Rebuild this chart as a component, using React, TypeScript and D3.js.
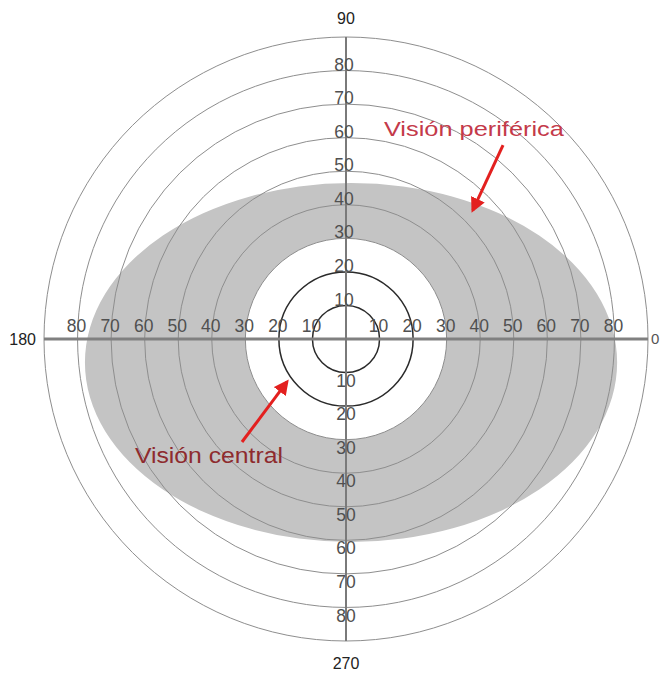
import React, { useEffect, useRef } from 'react';
import * as d3 from 'd3';

// Rings of the perimetry chart (degrees from fixation)
const ringDegrees = [10, 20, 30, 40, 50, 60, 70, 80, 90];
const darkRings = [10, 20];
const tickLabels = [10, 20, 30, 40, 50, 60, 70, 80];
const axisAngles = [0, 90, 180, 270];

// Peripheral field: shifted ellipse, in degrees [x, y] (y up)
const peripheralCenter = [1.5, -7];
const peripheralRadii = [79.3, 53.5];
// Central field: circle in degrees
const centralRadius = 30;

// Annotations in degrees: [text start, arrow tail, arrow tip]
const annotationNames = ['Visión periférica', 'Visión central'];
const annotationText = [[11.3, 60.5], [-62.9, -37]];
const annotationTail = [[46.8, 57.8], [-31, -30.7]];
const annotationTip = [[37.8, 38.4], [-17.6, -12.8]];

function App() {
  const ref = useRef<SVGSVGElement>(null);

  useEffect(() => {
    const svg = d3.select(ref.current);
    svg.selectAll('*').remove();

    const width = 672;
    const height = 680;
    const cx = 346;
    const cy = 339;
    const font = '"Liberation Sans", Arial, sans-serif';

    const r = d3.scaleLinear().domain([0, 90]).range([0, 302]);
    const px = (d: number) => cx + r(d);
    const py = (d: number) => cy - r(d);

    svg.append('rect').attr('width', width).attr('height', height).attr('fill', '#fff');

    const defs = svg.append('defs');
    defs.append('marker')
      .attr('id', 'head')
      .attr('viewBox', '0 0 10 10')
      .attr('refX', 8)
      .attr('refY', 5)
      .attr('markerWidth', 5)
      .attr('markerHeight', 5)
      .attr('orient', 'auto')
      .append('path')
      .attr('d', 'M0,0 L10,5 L0,10 Z')
      .attr('fill', '#e3201f');

    // Gray band: peripheral ellipse minus the central circle
    const ex = px(peripheralCenter[0]);
    const ey = py(peripheralCenter[1]);
    const erx = r(peripheralRadii[0]);
    const ery = r(peripheralRadii[1]);
    const cr = r(centralRadius);
    const ellipsePath = `M${ex + erx},${ey} A${erx},${ery} 0 1 0 ${ex - erx},${ey} A${erx},${ery} 0 1 0 ${ex + erx},${ey} Z`;
    const circlePath = `M${cx + cr},${cy} A${cr},${cr} 0 1 0 ${cx - cr},${cy} A${cr},${cr} 0 1 0 ${cx + cr},${cy} Z`;
    svg.append('path')
      .attr('d', ellipsePath + ' ' + circlePath)
      .attr('fill-rule', 'evenodd')
      .attr('fill', '#c4c4c4');

    // Rings
    svg.selectAll('.ring')
      .data(ringDegrees)
      .enter().append('circle')
      .attr('cx', cx)
      .attr('cy', cy)
      .attr('r', d => r(d))
      .attr('fill', 'none')
      .attr('stroke', d => darkRings.includes(d) ? '#2a2a2a' : '#8e8e8e')
      .attr('stroke-width', d => darkRings.includes(d) ? 1.5 : 1);

    // Axes
    svg.append('line')
      .attr('x1', px(-90)).attr('x2', px(90))
      .attr('y1', cy).attr('y2', cy)
      .attr('stroke', '#808080')
      .attr('stroke-width', 3);
    svg.append('line')
      .attr('x1', cx).attr('x2', cx)
      .attr('y1', py(90)).attr('y2', py(-90))
      .attr('stroke', '#7a7a7a')
      .attr('stroke-width', 2);

    const tickStyle = (sel: any) => sel
      .attr('font-family', font)
      .attr('font-size', 17.5)
      .attr('fill', '#505050')
      .attr('text-anchor', 'middle');

    // Horizontal tick labels (both sides, above axis)
    [-1, 1].forEach(side => {
      svg.selectAll(`.hx${side}`)
        .data(tickLabels)
        .enter().append('text')
        .call(tickStyle)
        .attr('x', d => px(side * d) - 1)
        .attr('y', cy - 7)
        .text(d => d);
    });

    // Vertical tick labels (sitting on the rings)
    svg.selectAll('.vu')
      .data(tickLabels)
      .enter().append('text')
      .call(tickStyle)
      .attr('x', cx - 2)
      .attr('y', d => py(d) - 6)
      .attr('dy', '0.35em')
      .text(d => d);
    svg.selectAll('.vd')
      .data(tickLabels)
      .enter().append('text')
      .call(tickStyle)
      .attr('x', cx)
      .attr('y', d => py(-d) + 8)
      .attr('dy', '0.35em')
      .text(d => d);

    // Meridian labels
    const meridianPos = (a: number) => {
      if (a === 0) return { x: px(90) + 3, y: cy, anchor: 'start' };
      if (a === 90) return { x: cx, y: py(90) - 19, anchor: 'middle' };
      if (a === 180) return { x: px(-90) - 8, y: cy, anchor: 'end' };
      return { x: cx, y: py(-90) + 22, anchor: 'middle' };
    };
    svg.selectAll('.meridian')
      .data(axisAngles)
      .enter().append('text')
      .attr('x', d => meridianPos(d).x)
      .attr('y', d => meridianPos(d).y)
      .attr('dy', '0.35em')
      .attr('text-anchor', d => meridianPos(d).anchor)
      .attr('font-family', font)
      .attr('font-size', d => d === 0 ? 15 : 16)
      .attr('fill', d => d === 0 ? '#555' : '#222')
      .text(d => d);

    // Annotations
    const textColors = ['#c43a4a', '#8e2b2e'];
    const textWidths = [180, 148];
    const textSizes = [21, 22];
    annotationNames.forEach((name, i) => {
      svg.append('line')
        .attr('x1', px(annotationTail[i][0]))
        .attr('y1', py(annotationTail[i][1]))
        .attr('x2', px(annotationTip[i][0]))
        .attr('y2', py(annotationTip[i][1]))
        .attr('stroke', '#e3201f')
        .attr('stroke-width', 3)
        .attr('marker-end', 'url(#head)');
      svg.append('text')
        .attr('x', px(annotationText[i][0]))
        .attr('y', py(annotationText[i][1]))
        .attr('font-family', font)
        .attr('font-size', textSizes[i])
        .attr('textLength', textWidths[i])
        .attr('lengthAdjust', 'spacingAndGlyphs')
        .attr('fill', textColors[i])
        .text(name);
    });
  }, []);

  return (
    <svg
      ref={ref}
      width={672}
      height={680}
      style={{ position: 'absolute', left: 0, top: 0, display: 'block' }}
    />
  );
}

export default App;
